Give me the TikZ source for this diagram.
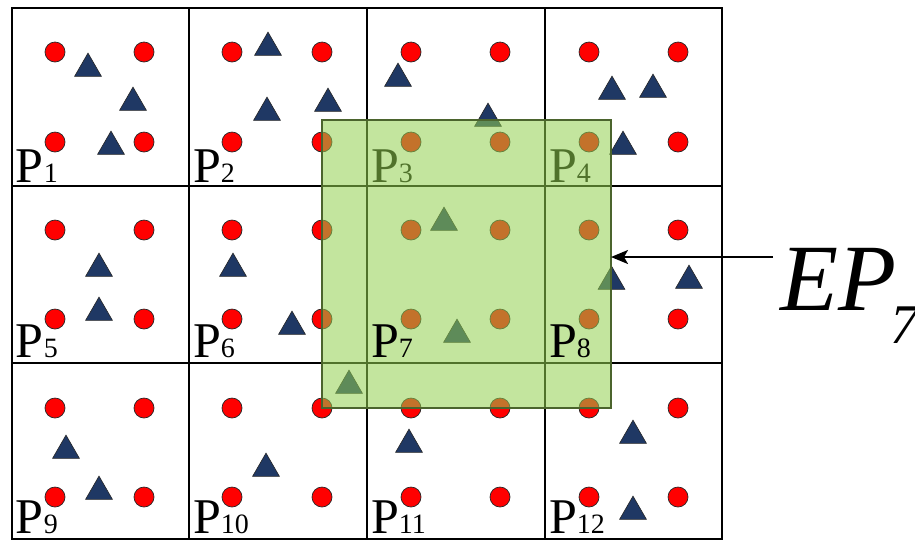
\documentclass[tikz,border=0pt]{standalone}
\usepackage{fontspec}
\setmainfont{Liberation Serif}
\usetikzlibrary{shapes.geometric,arrows.meta}
\definecolor{navy}{RGB}{31,56,100}
\definecolor{overlaygreen}{RGB}{146,208,80}
\definecolor{olivebord}{RGB}{75,100,45}
\begin{document}
\begin{tikzpicture}[x=1pt,y=-1pt,
  gridline/.style={line width=1.8pt, black},
  dot/.style={circle, fill=red, draw=black!85, line width=0.7pt, minimum size=20pt, inner sep=0pt, outer sep=0pt},
  tri/.style={regular polygon, regular polygon sides=3, fill=navy, draw=black!85, line width=0.6pt, minimum size=31pt, inner sep=0pt, outer sep=0pt},
  celllabel/.style={anchor=base west, inner sep=0pt, outer sep=0pt, font=\fontsize{50}{50}\selectfont},
  overlaybox/.style={draw=olivebord, line width=1.6pt, fill=overlaygreen, fill opacity=0.55, minimum width=289pt, minimum height=288pt, inner sep=0pt, outer sep=0pt},
  pointer/.style={line width=1.8pt, black, -{Stealth[length=17pt,width=14pt,inset=4pt]}},
  biglabel/.style={anchor=base west, inner sep=0pt, outer sep=0pt}
]
\useasboundingbox (0,0) rectangle (915,542);
\fill[white] (0,0) rectangle (915,542);
% grid
\draw[gridline] (12,8) rectangle (722,539);
\foreach \gx in {189,367,545} \draw[gridline] (\gx,8) -- (\gx,539);
\foreach \gy in {186,363} \draw[gridline] (12,\gy) -- (722,\gy);
% circles
\foreach \cx [count=\i] in {55,144,232,322,411,500,589,678}
  \foreach \cy [count=\j] in {52,142,230,319,408,497}
    \node[dot] (c\i-\j) at (\cx,\cy) {};
% triangles
\foreach \n/\tx/\ty in {1/88/68.6, 2/133/102.6, 3/111/146.6, 4/268/47.6, 5/267/112.6, 6/328/103.6,
  7/398/78.6, 8/488/118.6, 9/612/91.6, 10/653/89.6, 11/623/146.6, 12/99/268.6, 13/99/312.6,
  14/233/268.6, 15/292/326.6, 16/444/222.6, 17/457/334.6, 18/611.5/281.6, 19/689/280.6,
  20/66/450.6, 21/99/491.6, 22/266/468.6, 23/349/385.6, 24/409/444.6, 25/633/435.6, 26/633/511.6}
  \node[tri] (t\n) at (\tx,\ty) {};
% labels under the overlay
\node[celllabel] (p1) at (16,182) {P{\fontsize{28}{28}\selectfont 1}};
\node[celllabel] (p2) at (193,182) {P{\fontsize{28}{28}\selectfont 2}};
\node[celllabel] (p3) at (371,182) {P{\fontsize{28}{28}\selectfont 3}};
\node[celllabel] (p4) at (549,182) {P{\fontsize{28}{28}\selectfont 4}};
\node[celllabel] (p5) at (16,357) {P{\fontsize{28}{28}\selectfont 5}};
\node[celllabel] (p6) at (193,357) {P{\fontsize{28}{28}\selectfont 6}};
\node[celllabel] (p9) at (16,533) {P{\fontsize{28}{28}\selectfont 9}};
\node[celllabel] (p10) at (193,533) {P{\fontsize{28}{28}\selectfont 10}};
\node[celllabel] (p11) at (371,533) {P{\fontsize{28}{28}\selectfont 11}};
\node[celllabel] (p12) at (549,533) {P{\fontsize{28}{28}\selectfont 12}};
% overlay
\node[overlaybox] (ep) at (466.5,264) {};
% labels above the overlay
\node[celllabel] (p7) at (371,357) {P{\fontsize{28}{28}\selectfont 7}};
\node[celllabel] (p8) at (549,357) {P{\fontsize{28}{28}\selectfont 8}};
% EP_7 label and arrow
\node[biglabel] (eplabel) at (780,310) {\fontsize{95}{95}\selectfont\itshape EP\kern-6pt\raisebox{-33pt}{\fontsize{56}{56}\selectfont 7}};
\coordinate (a0) at (773,257);
\draw[pointer] (a0) -- (a0 -| ep.east);
\end{tikzpicture}
\end{document}
